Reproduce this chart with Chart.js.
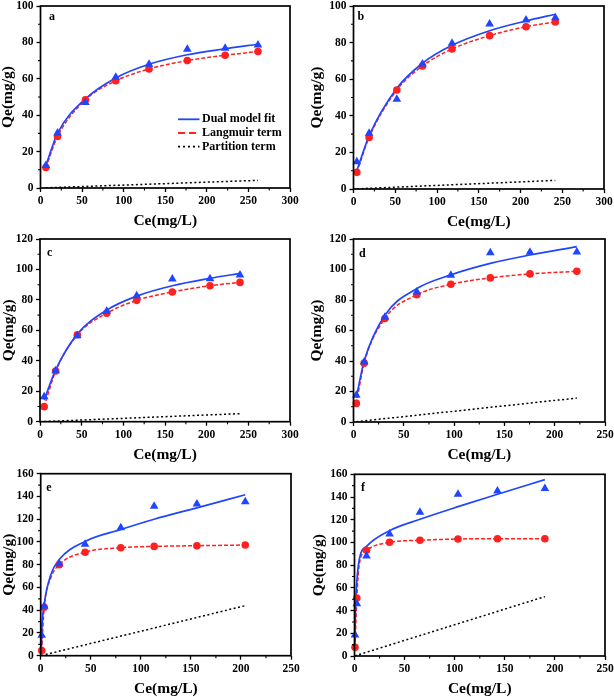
<!DOCTYPE html>
<html lang="en">
<head>
  <meta charset="UTF-8">
  <title>Isotherms</title>
  <style>
    html, body { margin: 0; padding: 0; background: #fff; }
    body { position: relative; width: 614px; height: 697px; overflow: hidden; }
    canvas { position: absolute; }
  </style>
</head>
<body>
  <script src="https://cdn.jsdelivr.net/npm/chart.js@4/dist/chart.umd.min.js"></script>
  <script>
    // panel a
    const ceA = [6.5, 20.5, 54, 90.5, 130.5, 176.5, 222, 261.5]
    const expA = [12.4, 30.2, 47, 60.9, 68, 76.2, 76.8, 78.6]
    const langA = [11.3, 28.3, 48.4, 58.9, 65.4, 70, 72.9, 75]
    const fitA = [12.5, 30, 49, 60.5, 68, 73.2, 76.5, 79]
    const partCeA = [6.5, 261.5]
    const partA = [0.1, 4.2]

    // panel b
    const ceB = [4, 18.7, 51.9, 82.6, 118, 163, 206.6, 241.7]
    const expB = [14.9, 30.4, 49, 68.3, 79.6, 90.2, 92.3, 93.6]
    const langB = [9.1, 28.2, 54.1, 67.2, 76.5, 83.8, 88.7, 91.3]
    const fitB = [10, 29, 55, 68.7, 78.5, 86.5, 91.8, 95.5]
    const partCeB = [4, 241.7]
    const partB = [0.1, 4.7]

    // panel c
    const ceC = [5, 18.8, 44.8, 80, 116, 158.8, 204, 240]
    const expC = [16.4, 33.5, 56.5, 72.5, 82.8, 93.7, 93.9, 96.3]
    const langC = [9.9, 33.3, 57.1, 71.2, 79.7, 85.2, 89.3, 91.5]
    const fitC = [14.2, 34, 57.5, 73.3, 82.5, 89.3, 94.2, 97.4]
    const partCeC = [5, 240]
    const partC = [0.1, 5.3]

    // panel d
    const ceD = [2.8, 10.6, 31.2, 63, 96.8, 136, 175.4, 222]
    const expD = [17.5, 39.3, 68.7, 85.3, 96.2, 111, 111.3, 111.5]
    const langD = [12.2, 38.6, 67.9, 83.4, 90.3, 94.5, 97.1, 98.8]
    const fitD = [16, 40, 70, 87.5, 96.5, 104, 109.5, 115]
    const partCeD = [2.8, 222]
    const partD = [0.2, 15.7]

    // panel e
    const ceE = [1, 3.5, 18.5, 44.3, 80, 113.3, 156, 204.3]
    const expE = [18, 43.5, 80.8, 98, 112.5, 131.3, 133.3, 135.4]
    const langE = [4.5, 42.5, 80, 91, 94.9, 96.1, 96.7, 97.3]
    const fitCeE = [0.6, 1, 3.5, 10, 18.5, 44.3, 80, 113.3, 156, 204.3]
    const fitE = [5, 20, 45, 71, 84.5, 100.5, 111, 120, 130, 141.5]
    const langCeE = [1, 3.5, 10, 18.5, 44.3, 80, 113.3, 156, 204.3]
    const langLineE = [4.5, 42.5, 68, 80, 91, 94.9, 96.1, 96.7, 97.3]
    const partCeE = [0.6, 204.3]
    const partE = [0.1, 44]

    // panel f
    const ceF = [0.5, 2.3, 12, 35, 65.3, 103.3, 142.7, 190]
    const expF = [18.5, 46, 88, 107.5, 126.5, 142.4, 145.3, 147.4]
    const langF = [7.6, 51, 93.1, 100.1, 101.9, 103, 103.3, 103.3]
    const fitCeF = [0.3, 0.8, 2.3, 5, 12, 35, 65.3, 103.3, 142.7, 190]
    const fitF = [8, 35, 65, 86, 96.5, 110.4, 120.4, 131.5, 142.4, 155.3]
    const langCeF = [0.5, 2.3, 5, 12, 35, 65.3, 103.3, 142.7, 190]
    const langLineF = [7.6, 51, 82, 93.1, 100.1, 101.9, 103, 103.3, 103.3]
    const partCeF = [0.3, 190]
    const partF = [0.1, 52.3]

    const seriesLabels = ['Dual model fit', 'Langmuir term', 'Partition term']
    const xTitle = 'Ce(mg/L)'
    const yTitle = 'Qe(mg/g)'

    // plot box on the page: [left, right, top, bottom], y axis box width, letter offset
    const panels = [
      { letter: 'a', box: [40.5, 290, 6, 188], yw: 41.6, lx: 8.5, ly: 11, xMax: 300, yMax: 100, legend: true,
        ce: ceA, exp: expA, lang: langA, fitCe: ceA, fit: fitA, langCe: ceA, langLine: langA, partCe: partCeA, part: partA },
      { letter: 'b', box: [353.5, 604, 6, 189], yw: 45.6, lx: 4, ly: 11, xMax: 300, yMax: 100,
        ce: ceB, exp: expB, lang: langB, fitCe: ceB, fit: fitB, langCe: ceB, langLine: langB, partCe: partCeB, part: partB },
      { letter: 'c', box: [40, 290, 239, 421.7], yw: 39.6, lx: 7, ly: 14, xMax: 300, yMax: 120,
        ce: ceC, exp: expC, lang: langC, fitCe: ceC, fit: fitC, langCe: ceC, langLine: langC, partCe: partCeC, part: partC },
      { letter: 'd', box: [353.5, 604.5, 239, 422], yw: 45.6, lx: 5.5, ly: 15, xMax: 250, yMax: 120,
        ce: ceD, exp: expD, lang: langD, fitCe: ceD, fit: fitD, langCe: ceD, langLine: langD, partCe: partCeD, part: partD },
      { letter: 'e', box: [40.7, 290.7, 473.7, 655.7], yw: 40.3, lx: 5.5, ly: 14.5, xMax: 250, yMax: 160,
        ce: ceE, exp: expE, lang: langE, fitCe: fitCeE, fit: fitE, langCe: langCeE, langLine: langLineE, partCe: partCeE, part: partE },
      { letter: 'f', box: [354.5, 604.7, 474.3, 656], yw: 45, lx: 6.5, ly: 14, xMax: 250, yMax: 160,
        ce: ceF, exp: expF, lang: langF, fitCe: fitCeF, fit: fitF, langCe: langCeF, langLine: langLineF, partCe: partCeF, part: partF }
    ]

    const BLUE = '#1f45ff'
    const RED = '#ff2020'
    const FONT = '"Liberation Serif", "Times New Roman", serif'

    const pts = (xs, ys) => xs.map((x, i) => ({ x: x, y: ys[i] }))

    const decor = {
      id: 'decor',
      afterDatasetsDraw(chart, args, opts) {
        const { ctx, chartArea: a, scales } = chart
        ctx.save()
        ctx.strokeStyle = '#000'
        ctx.lineWidth = 1.7
        ctx.strokeRect(a.left, a.top, a.right - a.left, a.bottom - a.top)

        // minor ticks halfway between the major ones
        ctx.lineWidth = 1.1
        ctx.beginPath()
        const xv = scales.x.ticks.map(t => t.value)
        for (let i = 0; i < xv.length - 1; i++) {
          const px = scales.x.getPixelForValue((xv[i] + xv[i + 1]) / 2)
          ctx.moveTo(px, a.bottom)
          ctx.lineTo(px, a.bottom + 2.5)
        }
        const yv = scales.y.ticks.map(t => t.value)
        for (let i = 0; i < yv.length - 1; i++) {
          const py = scales.y.getPixelForValue((yv[i] + yv[i + 1]) / 2)
          ctx.moveTo(a.left, py)
          ctx.lineTo(a.left - 2.5, py)
        }
        ctx.stroke()

        ctx.fillStyle = '#000'
        ctx.font = 'bold 12px ' + FONT
        ctx.textAlign = 'left'
        ctx.textBaseline = 'middle'
        ctx.fillText(opts.letter, a.left + opts.lx, a.top + opts.ly)

        if (opts.legend) {
          const rows = chart.data.datasets.filter(d => d.legendDash)
          rows.forEach((d, i) => {
            const yy = a.top + 113.3 + i * 13.7
            ctx.beginPath()
            ctx.strokeStyle = d.borderColor
            ctx.lineWidth = 1.8
            ctx.setLineDash(d.legendDash)
            ctx.moveTo(a.left + 137.5, yy)
            ctx.lineTo(a.left + 159, yy)
            ctx.stroke()
            ctx.setLineDash([])
            ctx.fillStyle = '#000'
            ctx.fillText(d.label, a.left + 161.5, yy)
          })
        }
        ctx.restore()
      }
    }

    function drawPanel(p) {
      const canvas = document.createElement('canvas')
      const left = Math.round(p.box[0] - p.yw)
      const top = Math.round(p.box[2] - 6)
      const yw = p.box[0] - left
      const padTop = p.box[2] - top
      const w = Math.round(p.box[1] - left + 12)
      const h = Math.round(p.box[3] - top + 46)
      const xh = h - (p.box[3] - top)
      canvas.width = w
      canvas.height = h
      canvas.style.left = left + 'px'
      canvas.style.top = top + 'px'
      canvas.style.width = w + 'px'
      canvas.style.height = h + 'px'
      document.body.appendChild(canvas)

      const tickFont = { family: FONT, size: 11.5, weight: 'bold' }
      const titleFont = { family: FONT, size: 15.5, weight: 'bold' }
      const grid = { drawOnChartArea: false, drawTicks: true, tickLength: 4, tickColor: '#000', tickWidth: 1.3 }

      new Chart(canvas.getContext('2d'), {
        type: 'scatter',
        data: {
          datasets: [
            {
              label: 'exp', data: pts(p.ce, p.exp), pointStyle: 'triangle', pointRadius: 5,
              backgroundColor: BLUE, borderColor: BLUE, borderWidth: 0, order: 0, clip: false
            },
            {
              label: 'lang points', data: pts(p.ce, p.lang), pointStyle: 'circle', pointRadius: 3.8,
              backgroundColor: RED, borderColor: RED, borderWidth: 0, order: 0, clip: false
            },
            {
              label: seriesLabels[0], data: pts(p.fitCe, p.fit), showLine: true, pointRadius: 0,
              borderColor: BLUE, borderWidth: 1.7, cubicInterpolationMode: 'monotone', order: 1,
              legendDash: []
            },
            {
              label: seriesLabels[1], data: pts(p.langCe, p.langLine), showLine: true, pointRadius: 0,
              borderColor: RED, borderWidth: 1.5, borderDash: [4, 2], cubicInterpolationMode: 'monotone', order: 2,
              legendDash: [7, 4]
            },
            {
              label: seriesLabels[2], data: pts(p.partCe, p.part), showLine: true, pointRadius: 0,
              borderColor: '#000', borderWidth: 1.5, borderDash: [2, 2.5], order: 3,
              legendDash: [2, 3]
            }
          ]
        },
        options: {
          responsive: false,
          animation: false,
          devicePixelRatio: 1,
          layout: { padding: { top: padTop, right: 12, left: 0, bottom: 0 } },
          plugins: {
            legend: { display: false },
            tooltip: { enabled: false },
            decor: { letter: p.letter, lx: p.lx, ly: p.ly, legend: !!p.legend }
          },
          scales: {
            x: {
              type: 'linear', min: 0, max: p.xMax,
              ticks: { stepSize: 50, color: '#000', font: tickFont, padding: 2, maxRotation: 0, autoSkip: false },
              grid: grid,
              border: { display: false },
              title: { display: true, text: xTitle, color: '#000', font: titleFont, padding: { top: 0, bottom: 4.2 } },
              afterFit: s => { s.height = xh; s.paddingLeft = 0; s.paddingRight = 0 }
            },
            y: {
              type: 'linear', min: 0, max: p.yMax,
              ticks: { stepSize: 20, color: '#000', font: tickFont, padding: 3, autoSkip: false },
              grid: grid,
              border: { display: false },
              title: { display: true, text: yTitle, color: '#000', font: titleFont, padding: { top: 0, bottom: 0 } },
              afterFit: s => { s.width = yw; s.paddingTop = 0; s.paddingBottom = 0 }
            }
          }
        },
        plugins: [decor]
      })
    }

    panels.forEach(drawPanel)
  </script>
</body>
</html>
